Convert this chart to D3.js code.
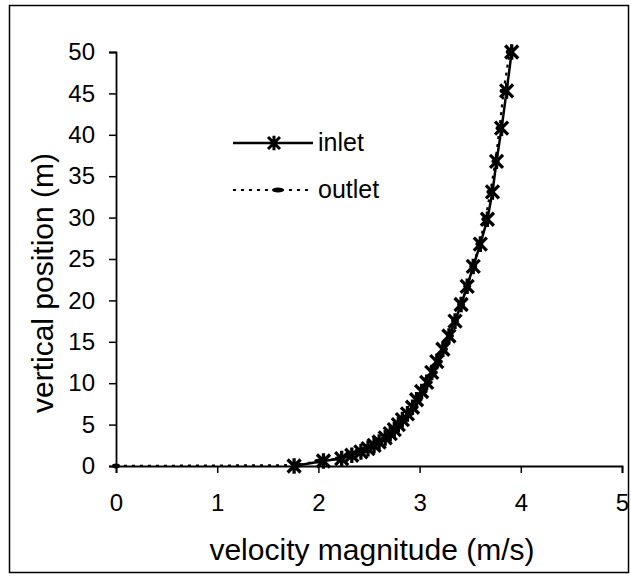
<!DOCTYPE html>
<html>
<head>
<meta charset="utf-8">
<script src="https://cdn.jsdelivr.net/npm/d3@7"></script>
<style>
  html, body { margin: 0; padding: 0; background: #fff; }
  svg { display: block; font-family: "Liberation Sans", Arial, sans-serif; }
</style>
</head>
<body>
<svg id="chart" width="631" height="577"></svg>
<script>
// Velocity profiles: vertical position (m) against velocity magnitude (m/s)
const inletHeight = [0, 0.6, 0.9, 1.3, 1.7, 2.1, 2.5, 2.9, 3.4, 3.9, 4.4, 5.0, 5.6, 6.3, 7.1, 8.0, 9.0,
  10.1, 11.3, 12.6, 14.1, 15.7, 17.5, 19.5, 21.7, 24.1, 26.8, 29.8, 33.1, 36.8, 40.8, 45.3, 50];
const inletVelocity = [1.76, 2.05, 2.23, 2.33, 2.42, 2.49, 2.55, 2.60, 2.66, 2.71, 2.75, 2.79, 2.83, 2.88, 2.93, 2.97, 3.02,
  3.07, 3.12, 3.17, 3.23, 3.29, 3.35, 3.41, 3.47, 3.53, 3.60, 3.67, 3.72, 3.76, 3.81, 3.86, 3.91];

const outletHeight = [0, 0.1, 0.6, 0.9, 1.3, 1.7, 2.1, 2.5, 2.9, 3.4, 3.9, 4.4, 5.0, 5.6, 6.3, 7.1, 8.0, 9.0,
  10.1, 11.3, 12.6, 14.1, 15.7, 17.5, 19.5, 21.7, 24.1, 26.8, 29.8, 33.1, 36.8, 40.8, 45.3, 50];
const outletVelocity = [0, 1.80, 2.00, 2.20, 2.31, 2.40, 2.47, 2.54, 2.60, 2.66, 2.71, 2.76, 2.80, 2.85, 2.90, 2.95, 2.99, 3.04,
  3.09, 3.14, 3.19, 3.24, 3.30, 3.35, 3.41, 3.47, 3.53, 3.59, 3.65, 3.70, 3.75, 3.79, 3.83, 3.89];

const xTicks = [0, 1, 2, 3, 4, 5];
const yTicks = [0, 5, 10, 15, 20, 25, 30, 35, 40, 45, 50];
const seriesNames = ["inlet", "outlet"];

const svg = d3.select("#chart");
const plotLeft = 116, plotRight = 622, plotTop = 52, plotBottom = 466;

const x = d3.scaleLinear().domain([0, 5]).range([plotLeft, plotRight]);
const y = d3.scaleLinear().domain([0, 50]).range([plotBottom, plotTop]);

// outer frame
svg.append("rect")
  .attr("x", 9.5).attr("y", 5.5).attr("width", 619).attr("height", 567)
  .attr("fill", "none").attr("stroke", "#000").attr("stroke-width", 1.5);

// axes
const xAxis = svg.append("g").attr("transform", `translate(0,${plotBottom})`)
  .call(d3.axisBottom(x).tickValues(xTicks).tickSize(7).tickPadding(21).tickFormat(d3.format("d")));
const yAxis = svg.append("g").attr("transform", `translate(${plotLeft},0)`)
  .call(d3.axisLeft(y).tickValues(yTicks).tickSize(7).tickPadding(14).tickFormat(d3.format("d")));
[xAxis, yAxis].forEach(g => {
  g.select(".domain").attr("stroke", "#000").attr("stroke-width", 1.8);
  g.selectAll(".tick line").attr("stroke", "#000").attr("stroke-width", 1.5);
  g.selectAll(".tick text").attr("fill", "#000").style("font-size", "24px")
    .style("font-family", "'Liberation Sans', Arial, sans-serif");
});

// axis titles
svg.append("text")
  .attr("x", 372).attr("y", 560).attr("text-anchor", "middle")
  .style("font-size", "30px").text("velocity magnitude (m/s)");
svg.append("text")
  .attr("transform", "translate(53,283) rotate(-90)").attr("text-anchor", "middle")
  .style("font-size", "30px").text("vertical position (m)");

const inlet = inletVelocity.map((v, i) => [v, inletHeight[i]]);
const outlet = outletVelocity.map((v, i) => [v, outletHeight[i]]);
const line = d3.line().x(d => x(d[0])).y(d => y(d[1]));

// asterisk marker: X plus vertical bar
function star(g, cx, cy, r, w) {
  const p = `M${cx - r},${cy - r}L${cx + r},${cy + r}M${cx - r},${cy + r}L${cx + r},${cy - r}M${cx},${cy - r * 1.2}L${cx},${cy + r * 1.2}`;
  g.append("path").attr("d", p).attr("stroke", "#000").attr("stroke-width", w).attr("fill", "none");
}

// inlet series
svg.append("path").datum(inlet).attr("d", line)
  .attr("fill", "none").attr("stroke", "#000").attr("stroke-width", 2.5);
const stars = svg.append("g");
inlet.forEach(d => star(stars, x(d[0]), y(d[1]), 6.5, 3.3));

// outlet series
svg.append("path").datum(outlet).attr("d", line)
  .attr("fill", "none").attr("stroke", "#000").attr("stroke-width", 2.2)
  .attr("stroke-dasharray", "3,5");
svg.append("g").selectAll("ellipse").data(outlet).join("ellipse")
  .attr("cx", d => x(d[0])).attr("cy", d => y(d[1]))
  .attr("rx", 4).attr("ry", 2.4).attr("fill", "#000");

// legend
const lg = svg.append("g");
lg.append("line").attr("x1", 233).attr("x2", 313).attr("y1", 143).attr("y2", 143)
  .attr("stroke", "#000").attr("stroke-width", 2.5);
star(lg, 274, 143, 6, 3);
lg.append("text").attr("x", 318).attr("y", 151).style("font-size", "25px").text(seriesNames[0]);

lg.append("line").attr("x1", 233).attr("x2", 312).attr("y1", 190).attr("y2", 190)
  .attr("stroke", "#000").attr("stroke-width", 2.2).attr("stroke-dasharray", "3,5");
lg.append("ellipse").attr("cx", 278).attr("cy", 190).attr("rx", 6).attr("ry", 2.6).attr("fill", "#000");
lg.append("text").attr("x", 318).attr("y", 198).style("font-size", "25px").text(seriesNames[1]);
</script>
</body>
</html>
